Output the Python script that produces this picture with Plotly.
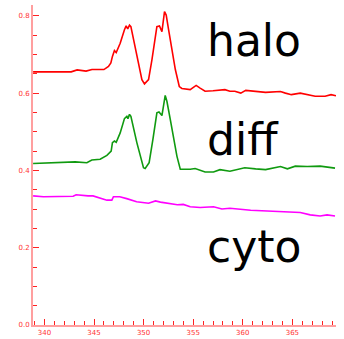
import plotly.graph_objects as go

# halo (red)
halo_x = [338.86, 342.7, 343.3, 344.2, 344.8, 346.0, 346.46, 346.7, 346.86, 347.06, 347.24, 347.64,
          348.07, 348.24, 348.4, 348.58, 348.72, 349.32, 349.83, 350.09, 350.5, 350.84, 351.34, 351.6,
          351.85, 352.11, 352.28, 352.52, 353.2, 353.6, 353.86, 354.7, 355.3, 355.7, 356.2, 357.0,
          358.2, 358.7, 359.2, 359.8, 360.3, 362.3, 363.8, 364.3, 364.9, 365.8, 367.3, 368.3, 368.9, 369.4]
halo_y = [0.655, 0.655, 0.660, 0.657, 0.661, 0.661, 0.669, 0.678, 0.695, 0.710, 0.705, 0.729,
          0.764, 0.774, 0.766, 0.776, 0.772, 0.695, 0.635, 0.624, 0.635, 0.686, 0.772, 0.774,
          0.759, 0.811, 0.802, 0.764, 0.661, 0.617, 0.612, 0.609, 0.620, 0.613, 0.605, 0.606,
          0.609, 0.605, 0.605, 0.600, 0.607, 0.602, 0.604, 0.600, 0.596, 0.600, 0.592, 0.592, 0.596, 0.593]

# diff (green)
diff_x = [338.86, 340.75, 343.1, 344.28, 344.78, 345.62, 346.30, 346.73, 346.86, 347.06, 347.24, 347.64,
          348.07, 348.31, 348.42, 348.58, 348.72, 349.32, 349.99, 350.16, 350.56, 350.94, 351.34, 351.55,
          351.85, 352.18, 352.35, 352.69, 353.36, 353.70, 354.71, 355.2, 356.2, 357.05, 357.7, 358.7,
          360.2, 361.3, 362.3, 363.8, 364.5, 365.3, 366.5, 367.8, 368.5, 369.3]
diff_y = [0.418, 0.419, 0.422, 0.420, 0.427, 0.429, 0.439, 0.450, 0.472, 0.476, 0.473, 0.497,
          0.534, 0.540, 0.534, 0.545, 0.540, 0.472, 0.407, 0.405, 0.420, 0.480, 0.549, 0.551,
          0.542, 0.594, 0.579, 0.532, 0.437, 0.403, 0.403, 0.405, 0.396, 0.396, 0.402, 0.398,
          0.407, 0.404, 0.402, 0.410, 0.404, 0.411, 0.410, 0.411, 0.408, 0.406]

# cyto (magenta)
cyto_x = [338.86, 339.9, 342.9, 343.2, 344.4, 344.9, 346.3, 346.8, 346.96, 347.4, 347.6, 348.3,
          349.3, 350.5, 351.2, 351.7, 352.7, 353.4, 354.0, 354.7, 355.7, 357.05, 357.9, 358.7,
          360.8, 362.8, 364.8, 365.8, 366.8, 367.8, 368.5, 369.3]
cyto_y = [0.334, 0.332, 0.333, 0.337, 0.334, 0.334, 0.323, 0.323, 0.332, 0.333, 0.332, 0.327,
          0.319, 0.315, 0.321, 0.318, 0.315, 0.311, 0.312, 0.306, 0.304, 0.306, 0.300, 0.302,
          0.297, 0.295, 0.292, 0.291, 0.285, 0.282, 0.285, 0.282]

labels = ["halo", "diff", "cyto"]
label_y = [0.737, 0.48, 0.203]

x_ticks = [340, 345, 350, 355, 360, 365]
y_ticks = [0.0, 0.2, 0.4, 0.6, 0.8]

fig = go.Figure()
fig.add_trace(go.Scatter(x=halo_x, y=halo_y, mode="lines", line=dict(color="#ff0000", width=1.6)))
fig.add_trace(go.Scatter(x=diff_x, y=diff_y, mode="lines", line=dict(color="#109a10", width=1.6)))
fig.add_trace(go.Scatter(x=cyto_x, y=cyto_y, mode="lines", line=dict(color="#ff00ff", width=1.6)))

for t, yy in zip(labels, label_y):
    fig.add_annotation(x=356.2, y=yy, xref="x", yref="y", text=t, showarrow=False,
                       xanchor="left", yanchor="middle",
                       font=dict(family="DejaVu Sans", size=44, color="black"))

axis_common = dict(
    showgrid=False, zeroline=False, showline=True, automargin=False,
    linecolor="rgba(255,80,80,0.55)", linewidth=2,
    ticks="inside", tickcolor="#ff2222", tickwidth=1,
    tickfont=dict(family="DejaVu Sans", size=7, color="#ff3333"),
)

fig.update_xaxes(range=[338.85, 369.4], tickvals=x_ticks, ticktext=[str(v) for v in x_ticks],
                 ticklen=6, minor=dict(dtick=1, tick0=340, ticklen=4, ticks="inside", tickcolor="#ff2222"),
                 **axis_common)
fig.update_yaxes(range=[0, 0.828], tickvals=y_ticks, ticktext=[f"{v:.1f}" for v in y_ticks],
                 ticklen=6, minor=dict(dtick=0.05, tick0=0, ticklen=4, ticks="inside", tickcolor="#ff2222"),
                 **axis_common)

fig.update_layout(width=344, height=339, margin=dict(l=33, r=8, t=5, b=14),
                  paper_bgcolor="white", plot_bgcolor="white", showlegend=False)

fig.write_html("out.html", config={"displayModeBar": False},
               post_script="document.body.style.margin='0';document.body.style.overflow='hidden';")
